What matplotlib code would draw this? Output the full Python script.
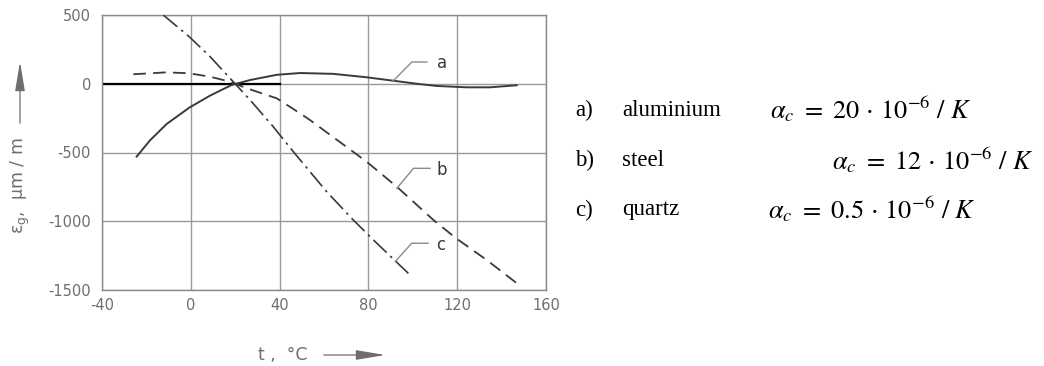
import numpy as np
import matplotlib
matplotlib.use('Agg')
from matplotlib import pyplot as plt
from matplotlib import patches

# curve a: aluminium (solid)
t_a = [-24.4, -18.4, -10.9, -0.7, 8.7, 18.4, 26.7, 38.7, 49.2, 64.2, 79.2, 91.2, 101.8, 110.8, 124.3, 134.8, 146.8]
e_a = [-530, -412, -293, -174, -86, -9, 27, 65, 78, 72, 47, 22, 0, -16, -26, -26, -11]

# curve b: steel (dashed)
t_b = [-25.9, -10.9, -0.7, 8.7, 17.7, 25.2, 38.7, 49.2, 53.7, 79.2, 92.8, 109.3, 119.5, 133.3, 148.3]
e_b = [69, 83, 76, 51, 15, -33, -106, -215, -264, -567, -749, -991, -1124, -1282, -1469]

# curve c: quartz (dash-dot)
t_c = [-12.4, -0.7, 8.7, 19.1, 26.7, 36.5, 46.8, 61.2, 73.2, 83.8, 98.0]
e_c = [500, 342, 197, 15, -118, -300, -506, -785, -991, -1160, -1379]

# curve tags: (text, leader start, kink, end, text pos)
tags = [
    ('a', (91.1, 20), (99.6, 158), (106.4, 158), (110.8, 150)),
    ('b', (92.8, -761), (100.3, -615), (107.8, -615), (110.8, -625)),
    ('c', (92.0, -1294), (99.5, -1160), (106.9, -1160), (110.3, -1172)),
]

xticks = [-40, 0, 40, 80, 120, 160]
yticks = [500, 0, -500, -1000, -1500]

materials = ['a)', 'b)', 'c)']
names = ['aluminium', 'steel', 'quartz']
coeffs = ['20', '12', '0.5']

grey = '#6e6e6e'
ink = '#3a3a3a'

plt.rcParams['axes.unicode_minus'] = False
plt.rcParams['mathtext.fontset'] = 'stix'

fig = plt.figure(figsize=(10.44, 3.66), dpi=100)
ax = fig.add_axes([102 / 1044, 1 - 290 / 366, 444 / 1044, 275 / 366])

ax.set_xlim(-40, 160)
ax.set_ylim(-1500, 500)
ax.set_xticks(xticks)
ax.set_yticks(yticks)
ax.grid(True, color='#9a9a9a', linewidth=1.0)
for s in ax.spines.values():
    s.set_color('#8a8a8a')
    s.set_linewidth(1.0)
ax.tick_params(length=0, colors=grey, labelsize=10.5)
ax.tick_params(axis='x', pad=6)
ax.tick_params(axis='y', pad=8)
ax.set_axisbelow(True)

# bold zero line for the left part
ax.plot([-40, 40], [0, 0], color='black', linewidth=1.6, zorder=2)

ax.plot(t_a, e_a, color=ink, linewidth=1.4, zorder=3)
ax.plot(t_b, e_b, color=ink, linewidth=1.3, dashes=(7, 4), zorder=3)
ax.plot(t_c, e_c, color=ink, linewidth=1.2, dashes=(11, 3, 1.5, 3), zorder=3)

for txt, p0, p1, p2, pt in tags:
    ax.plot([p0[0], p1[0], p2[0]], [p0[1], p1[1], p2[1]], color='#8a8a8a', linewidth=1.0, zorder=3)
    ax.text(pt[0], pt[1], txt, color=ink, fontsize=12, va='center', ha='left')

# axis labels with arrows
fig.text(20 / 1044, 1 - 186 / 366, r'$\mathregular{\varepsilon_g}$,  µm / m', rotation=90,
         ha='center', va='center', color=grey, fontsize=12.5, family='DejaVu Sans')
fig.add_artist(patches.FancyArrowPatch((20 / 1044, 1 - 126 / 366), (20 / 1044, 1 - 59 / 366),
                                       transform=fig.transFigure, arrowstyle='-|>,head_length=18,head_width=3',
                                       color=grey, linewidth=0.9, mutation_scale=1))
fig.text(258 / 1044, 1 - 355 / 366, 't ,  °C', ha='left', va='center', color=grey, fontsize=12.5)
fig.add_artist(patches.FancyArrowPatch((321 / 1044, 1 - 355 / 366), (388 / 1044, 1 - 355 / 366),
                                       transform=fig.transFigure, arrowstyle='-|>,head_length=18,head_width=3',
                                       color=grey, linewidth=0.9, mutation_scale=1))

# legend text on the right
row_y = [110, 160, 210]
form_x = [770, 832, 768]
for lab, nm, co, yy, fx in zip(materials, names, coeffs, row_y, form_x):
    fig.text(575 / 1044, 1 - yy / 366, lab, family='Liberation Serif', fontsize=16.5, va='center', ha='left')
    fig.text(622 / 1044, 1 - yy / 366, nm, family='Liberation Serif', fontsize=16.5, va='center', ha='left')
    fig.text(fx / 1044, 1 - yy / 366, r'$\alpha_c\ =\ \mathrm{%s}\,\cdot\,\mathrm{10}^{-6}\ /\ K$' % co,
             fontsize=19, va='center', ha='left')

fig.savefig('out.png', dpi=100)
